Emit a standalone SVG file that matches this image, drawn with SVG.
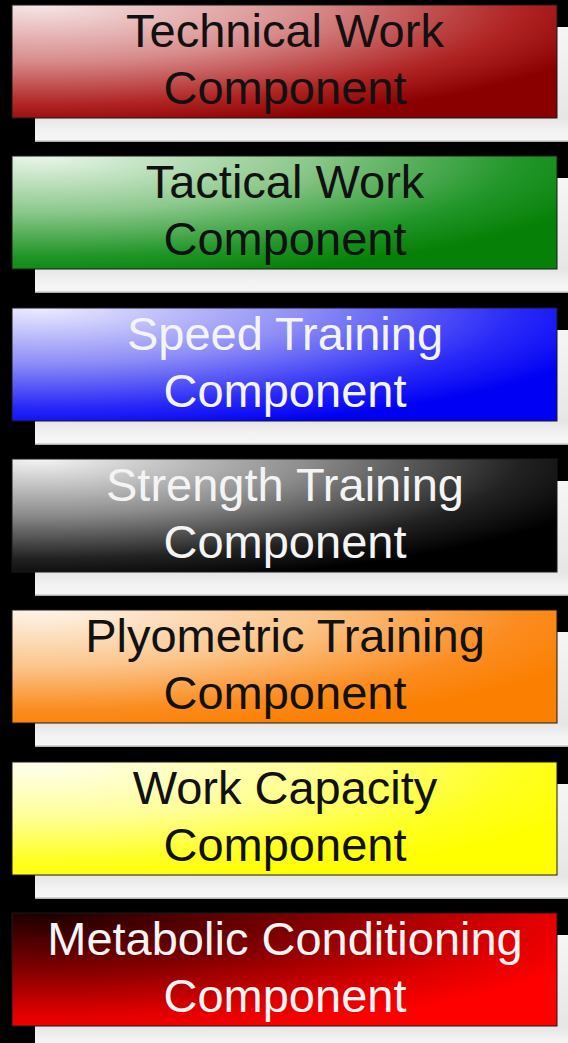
<svg xmlns="http://www.w3.org/2000/svg" width="568" height="1043" viewBox="0 0 568 1043">
<style>
.shadow{fill:url(#gShadow);}
.box{stroke:#1a1a1a;stroke-width:1;}
.lbl{font-family:"Liberation Sans",Arial,sans-serif;font-size:47px;text-anchor:middle;}
.dark{fill:#111;}
.light{fill:#f4f4f4;}
</style>
<defs>
<linearGradient id="gShadow" x1="0" y1="0" x2="0" y2="1">
<stop offset="0" stop-color="#f6f6f6"/>
<stop offset="0.8" stop-color="#e6e6e6"/>
<stop offset="0.9" stop-color="#f2f2f2"/>
<stop offset="0.98" stop-color="#f6f6f6"/>
<stop offset="1" stop-color="#9a9a9a"/>
</linearGradient>
<radialGradient id="gRed" cx="0.05" cy="0" r="1.1" fx="0.05" fy="0">
<stop offset="0" stop-color="#f6e6e6"/>
<stop offset="0.45" stop-color="#d88c8c"/>
<stop offset="0.8" stop-color="#b02424"/>
<stop offset="1" stop-color="#8a0000"/>
</radialGradient>
<radialGradient id="gGreen" cx="0.05" cy="0" r="1.1" fx="0.05" fy="0">
<stop offset="0" stop-color="#eaf6ea"/>
<stop offset="0.45" stop-color="#8cc88c"/>
<stop offset="0.8" stop-color="#22962a"/>
<stop offset="1" stop-color="#068006"/>
</radialGradient>
<radialGradient id="gBlue" cx="0.05" cy="0" r="1.1" fx="0.05" fy="0">
<stop offset="0" stop-color="#ececff"/>
<stop offset="0.45" stop-color="#8c8cf6"/>
<stop offset="0.8" stop-color="#2828f8"/>
<stop offset="1" stop-color="#0000f4"/>
</radialGradient>
<radialGradient id="gBlack" cx="0.05" cy="0" r="1.1" fx="0.05" fy="0">
<stop offset="0" stop-color="#f4f4f4"/>
<stop offset="0.45" stop-color="#8c8c8c"/>
<stop offset="0.8" stop-color="#222222"/>
<stop offset="1" stop-color="#000000"/>
</radialGradient>
<radialGradient id="gOrange" cx="0.05" cy="0" r="1.1" fx="0.05" fy="0">
<stop offset="0" stop-color="#fff4ea"/>
<stop offset="0.45" stop-color="#fbc68c"/>
<stop offset="0.8" stop-color="#fb8c20"/>
<stop offset="1" stop-color="#fb7f00"/>
</radialGradient>
<radialGradient id="gYellow" cx="0.05" cy="0" r="1.1" fx="0.05" fy="0">
<stop offset="0" stop-color="#fffff0"/>
<stop offset="0.45" stop-color="#ffff96"/>
<stop offset="0.8" stop-color="#ffff20"/>
<stop offset="1" stop-color="#ffff00"/>
</radialGradient>
<radialGradient id="gMeta" cx="0.05" cy="0" r="1.1" fx="0.05" fy="0">
<stop offset="0" stop-color="#1a0000"/>
<stop offset="0.45" stop-color="#800000"/>
<stop offset="0.8" stop-color="#dc0000"/>
<stop offset="1" stop-color="#ff0000"/>
</radialGradient>
</defs>
<rect x="0" y="0" width="568" height="1043" fill="#000"/>
<g id="connectors"></g>
<g id="technical">
<rect class="shadow" x="35" y="27" width="533" height="115"/>
<rect class="box" x="12" y="5" width="545" height="113" fill="url(#gRed)"/>
<text class="lbl dark" x="285" y="47">Technical Work</text>
<text class="lbl dark" x="285" y="104">Component</text>
</g>
<g id="tactical">
<rect class="shadow" x="35" y="178" width="533" height="115"/>
<rect class="box" x="12" y="156" width="545" height="113" fill="url(#gGreen)"/>
<text class="lbl dark" x="285" y="198">Tactical Work</text>
<text class="lbl dark" x="285" y="255">Component</text>
</g>
<g id="speed">
<rect class="shadow" x="35" y="330" width="533" height="115"/>
<rect class="box" x="12" y="308" width="545" height="113" fill="url(#gBlue)"/>
<text class="lbl light" x="285" y="350">Speed Training</text>
<text class="lbl light" x="285" y="407">Component</text>
</g>
<g id="strength">
<rect class="shadow" x="35" y="481" width="533" height="115"/>
<rect class="box" x="12" y="459" width="545" height="113" fill="url(#gBlack)"/>
<text class="lbl light" x="285" y="501">Strength Training</text>
<text class="lbl light" x="285" y="558">Component</text>
</g>
<g id="plyometric">
<rect class="shadow" x="35" y="632" width="533" height="115"/>
<rect class="box" x="12" y="610" width="545" height="113" fill="url(#gOrange)"/>
<text class="lbl dark" x="285" y="652">Plyometric Training</text>
<text class="lbl dark" x="285" y="709">Component</text>
</g>
<g id="workcapacity">
<rect class="shadow" x="35" y="784" width="533" height="115"/>
<rect class="box" x="12" y="762" width="545" height="113" fill="url(#gYellow)"/>
<text class="lbl dark" x="285" y="804">Work Capacity</text>
<text class="lbl dark" x="285" y="861">Component</text>
</g>
<g id="metabolic">
<rect class="shadow" x="35" y="935" width="533" height="115"/>
<rect class="box" x="12" y="913" width="545" height="113" fill="url(#gMeta)"/>
<text class="lbl light" x="285" y="955">Metabolic Conditioning</text>
<text class="lbl light" x="285" y="1012">Component</text>
</g>
</svg>
